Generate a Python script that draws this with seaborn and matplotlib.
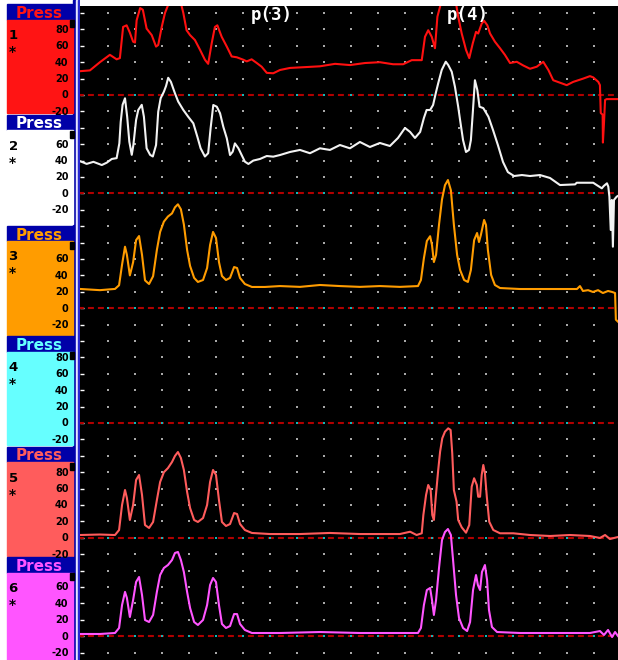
import numpy as np
import pandas as pd
import matplotlib
matplotlib.use("Agg")
import matplotlib.pyplot as plt
from matplotlib.patches import Rectangle
import seaborn as sns

# ---------------- data ----------------
channel_names = ["1", "2", "3", "4", "5", "6"]
panel_colors = ["#ff1414", "#ffffff", "#ff9c00", "#66ffff", "#ff5c5c", "#ff55ff"]
trace_colors = ["#ff1010", "#f2f2f2", "#ff9c00", "#66ffff", "#ff5c5c", "#ff55ff"]
zero_offsets = [-100, -220, -360, -500, -640, -760]   # plotted position of 0 mmHg
tick_values = [
    [80, 60, 40, 20, 0, -20],
    [60, 40, 20, 0, -20],
    [60, 40, 20, 0, -20],
    [80, 60, 40, 20, 0, -20],
    [80, 60, 40, 20, 0, -20],
    [60, 40, 20, 0, -20],
]
event_labels = ["p(3)", "p(4)"]
event_times = [7.07, 14.33]

# (time s, pressure mmHg)
ch1 = [(-0.05, 29), (0.33, 30), (0.70, 40), (1.07, 49), (1.32, 43.5), (1.44, 45), (1.56, 83),
       (1.69, 85), (1.81, 76), (1.93, 65), (2.00, 64), (2.06, 91), (2.19, 106), (2.29, 104),
       (2.43, 81), (2.62, 73), (2.78, 59), (2.86, 61), (2.99, 83), (3.11, 100), (3.23, 110),
       (3.37, 122), (3.52, 126), (3.67, 116), (3.79, 100), (3.91, 79), (4.04, 73), (4.22, 67),
       (4.41, 55), (4.59, 43), (4.71, 38), (4.84, 63), (4.96, 83), (5.05, 85), (5.21, 71),
       (5.40, 59), (5.58, 47), (5.77, 46), (6.01, 43), (6.14, 41), (6.32, 43.5), (6.51, 39),
       (6.69, 34.5), (6.88, 27), (7.12, 26.5), (7.37, 30.5), (7.74, 33), (8.30, 34), (8.85, 35),
       (9.41, 38), (9.96, 36.5), (10.52, 39), (11.07, 40), (11.56, 37.5), (11.93, 37.5),
       (12.25, 42.5), (12.62, 42.5), (12.74, 71), (12.86, 79), (12.99, 71), (13.11, 57),
       (13.20, 95.5), (13.30, 108), (13.37, 122), (13.59, 128), (13.85, 120), (13.97, 95.5),
       (14.10, 75), (14.26, 55), (14.38, 45), (14.51, 63), (14.63, 77), (14.71, 75), (14.84, 87),
       (14.93, 90.5), (15.05, 85), (15.15, 75), (15.33, 65), (15.52, 57), (15.70, 49),
       (15.89, 39), (16.14, 40.5), (16.38, 36), (16.63, 32), (16.88, 34.5), (17.12, 40.5),
       (17.31, 30.5), (17.49, 18), (17.74, 15), (17.99, 12), (18.23, 16), (18.60, 20),
       (18.85, 23), (18.97, 21.5), (19.16, 16), (19.22, 12), (19.25, -22), (19.32, -24),
       (19.33, -58), (19.37, -34), (19.41, -6), (19.47, -5), (19.89, -5)]

ch2 = [(-0.05, 39.5), (0.21, 36), (0.46, 38.5), (0.77, 34.6), (0.95, 37.4), (1.14, 42),
       (1.32, 43), (1.42, 61), (1.47, 87), (1.54, 108), (1.63, 116), (1.71, 93.5), (1.79, 63),
       (1.88, 47), (1.94, 59), (2.04, 89.5), (2.12, 101.7), (2.25, 108), (2.33, 93.5),
       (2.43, 55), (2.56, 47), (2.66, 45), (2.78, 59), (2.86, 99.6), (2.95, 116), (3.07, 124),
       (3.15, 131), (3.23, 141), (3.33, 136), (3.41, 128.5), (3.48, 122), (3.60, 112),
       (3.79, 101.7), (3.97, 93.5), (4.16, 85.5), (4.31, 69), (4.43, 55), (4.59, 45), (4.71, 49),
       (4.80, 79.4), (4.90, 107.8), (5.03, 105.7), (5.15, 97.7), (5.27, 81.3), (5.40, 67.2),
       (5.52, 46.8), (5.62, 50.9), (5.70, 61), (5.83, 55), (5.95, 46.8), (6.07, 38.7),
       (6.20, 35.9), (6.38, 40), (6.63, 42), (6.88, 45.6), (7.12, 44.8), (7.37, 46.8),
       (7.74, 50.5), (8.11, 53), (8.48, 49), (8.85, 55), (9.22, 53), (9.59, 59), (9.96, 55),
       (10.33, 62.7), (10.70, 56.6), (11.07, 61.5), (11.44, 57.8), (11.74, 67.6), (12.00, 79.8),
       (12.19, 74.9), (12.37, 67.6), (12.56, 74.9), (12.70, 92), (12.80, 101.7), (12.93, 101.7),
       (13.04, 107.8), (13.15, 123.7), (13.23, 134.3), (13.36, 150.5), (13.51, 160.6),
       (13.60, 156.6), (13.73, 148.4), (13.85, 130), (13.97, 105.7), (14.04, 89.5), (14.15, 65),
       (14.26, 50.5), (14.37, 53), (14.44, 65), (14.51, 98), (14.59, 138), (14.68, 126),
       (14.76, 105.7), (14.90, 104), (15.09, 93.5), (15.26, 77.3), (15.44, 59), (15.63, 38.3),
       (15.81, 26), (16.04, 21.2), (16.33, 22.4), (16.63, 21.2), (17.00, 22.4), (17.37, 18.8),
       (17.74, 10.2), (18.30, 11), (18.36, 13), (18.97, 13), (19.10, 10.2), (19.29, 6.2),
       (19.36, 9), (19.48, 12.3), (19.53, 8.2), (19.57, -4), (19.62, -44.6), (19.66, -8),
       (19.70, -65), (19.74, -8), (19.84, -4), (19.89, -3)]

ch3 = [(-0.05, 23.5), (0.70, 22), (1.26, 23.5), (1.41, 28), (1.52, 53), (1.63, 75), (1.70, 65),
       (1.81, 40), (1.93, 56), (2.04, 83), (2.15, 88), (2.26, 65), (2.37, 34), (2.52, 29.5),
       (2.67, 39), (2.81, 71), (2.93, 93), (3.07, 105.6), (3.22, 111.8), (3.37, 115.6),
       (3.48, 123), (3.59, 126.7), (3.70, 120.6), (3.81, 102.1), (3.93, 71), (4.04, 51.5),
       (4.19, 37), (4.33, 32), (4.52, 34.4), (4.67, 49), (4.78, 77), (4.89, 93), (5.00, 85.6),
       (5.11, 56.3), (5.22, 39.3), (5.37, 34.4), (5.52, 37), (5.67, 50.2), (5.78, 49),
       (5.89, 36.8), (6.07, 29.5), (6.33, 25.9), (6.81, 25.9), (7.37, 27), (8.11, 26),
       (8.85, 28.3), (9.59, 27), (10.33, 26), (11.07, 27), (11.81, 26), (12.48, 27),
       (12.59, 34.4), (12.70, 61), (12.81, 82), (12.93, 87.8), (13.00, 77), (13.07, 56.3),
       (13.15, 65), (13.26, 102), (13.37, 132.6), (13.48, 150), (13.59, 156.3), (13.70, 143.7),
       (13.81, 101.9), (13.93, 65), (14.04, 46.6), (14.19, 34.4), (14.33, 32), (14.44, 46.6),
       (14.56, 83), (14.67, 91.7), (14.74, 80.7), (14.81, 89.3), (14.93, 107.6), (15.00, 101.5),
       (15.07, 71), (15.19, 40.5), (15.33, 28.3), (15.52, 24.6), (16.26, 23.4), (17.00, 23.4),
       (17.74, 23.4), (18.37, 23.4), (18.48, 27), (18.59, 21), (18.78, 22), (18.96, 19.8),
       (19.15, 22), (19.33, 18.5), (19.52, 21), (19.67, 19.8), (19.78, 18.5), (19.81, -14),
       (19.89, -16.5)]

ch4 = []   # no signal on channel 4

ch5 = [(-0.05, 3.4), (0.70, 4), (1.26, 3.4), (1.41, 9.5), (1.52, 40), (1.63, 58.3), (1.70, 48.5),
       (1.81, 21.7), (1.93, 40), (2.04, 70.5), (2.15, 76.6), (2.26, 52.2), (2.37, 15.6),
       (2.52, 12), (2.67, 19.3), (2.81, 46), (2.93, 68), (3.07, 80), (3.22, 85), (3.37, 92.4),
       (3.48, 99.8), (3.59, 104.6), (3.70, 97.3), (3.81, 82.7), (3.93, 55.9), (4.04, 36.3),
       (4.19, 21.7), (4.33, 19.3), (4.52, 24.1), (4.67, 40), (4.78, 68), (4.89, 82.7),
       (5.00, 76.6), (5.11, 46), (5.22, 19.3), (5.37, 14.4), (5.52, 16.8), (5.67, 30.2),
       (5.78, 29), (5.89, 16.8), (6.07, 9.5), (6.33, 5.9), (7.00, 4.6), (8.11, 4.6), (9.22, 5.9),
       (10.33, 4.6), (11.07, 4.6), (11.81, 4.6), (12.19, 7.4), (12.43, 3.4), (12.62, 5.5),
       (12.68, 27.8), (12.78, 52.2), (12.86, 64.4), (12.95, 58.3), (13.01, 27.8), (13.07, 21.7),
       (13.14, 50.1), (13.23, 82.7), (13.30, 105), (13.38, 121.3), (13.48, 129.4),
       (13.60, 133.5), (13.69, 131.5), (13.75, 103), (13.81, 58.3), (13.91, 44), (13.97, 21.7),
       (14.10, 12.8), (14.26, 6.2), (14.38, 15.6), (14.47, 62.3), (14.56, 72.6), (14.66, 64.4),
       (14.71, 50.1), (14.78, 50.1), (14.84, 76.6), (14.90, 88.8), (14.96, 78.7), (15.03, 50.1),
       (15.12, 19.6), (15.27, 9.5), (15.52, 5.5), (16.01, 5.5), (16.63, 3.4), (17.37, 2.2),
       (18.11, 3.4), (18.85, 2.2), (19.22, -0.2), (19.41, 3.4), (19.59, -1.5), (19.89, 1)]

ch6 = [(-0.05, 2.7), (0.70, 2.7), (1.26, 3.9), (1.41, 10), (1.52, 38), (1.63, 54), (1.70, 46.6),
       (1.81, 23.4), (1.93, 44.1), (2.04, 66.1), (2.15, 72.2), (2.26, 50.2), (2.37, 19.8),
       (2.52, 17.3), (2.67, 25.9), (2.81, 54), (2.93, 74.6), (3.07, 83.2), (3.22, 86.8),
       (3.37, 92.9), (3.48, 101.5), (3.59, 102.7), (3.70, 92.9), (3.81, 78.3), (3.93, 54),
       (4.04, 34.4), (4.19, 17.3), (4.33, 13.7), (4.52, 19.8), (4.67, 38), (4.78, 62.4),
       (4.89, 71), (5.00, 66.1), (5.11, 38), (5.22, 14.9), (5.37, 10), (5.52, 12.4), (5.67, 27),
       (5.78, 27), (5.89, 14.9), (6.07, 7.6), (6.33, 3.9), (7.37, 3.9), (8.85, 5.1), (10.33, 3.9),
       (11.81, 3.9), (12.48, 3.9), (12.59, 10), (12.70, 38), (12.81, 56.3), (12.93, 58.8),
       (13.00, 44.1), (13.07, 25.9), (13.15, 44.1), (13.26, 83.2), (13.37, 117.3), (13.48, 127),
       (13.59, 130.7), (13.70, 123.4), (13.78, 92.9), (13.89, 50.2), (14.00, 22.2), (14.15, 10),
       (14.30, 6.3), (14.41, 17.3), (14.52, 56.3), (14.63, 74.6), (14.70, 62.4), (14.78, 56.3),
       (14.85, 78.3), (14.96, 86.8), (15.04, 68.5), (15.11, 32), (15.22, 11.2), (15.41, 5.1),
       (16.26, 3.9), (17.74, 3.9), (18.85, 3.9), (19.22, 6.3), (19.37, 1.5), (19.52, 7.6),
       (19.67, -1), (19.78, 5.1), (19.89, 0.2)]

channels = [ch1, ch2, ch3, ch4, ch5, ch6]

grid_times = np.arange(1, 20)          # one dot column per second
grid_levels = np.arange(0, 40) * -20   # one dot row per 20 mmHg

# ---------------- figure ----------------
plt.rcParams["lines.scale_dashes"] = False
W, H = 618, 660
fig = plt.figure(figsize=(W / 100, H / 100), dpi=100, facecolor="white")

ax = fig.add_axes([80 / W, 0, 538 / W, 654 / H])
ax.set_facecolor("black")
ax.set_xlim(-1 / 27, 537 / 27)
ax.set_ylim(-647 / 16.4 * 20, 7 / 16.4 * 20)
for s in ax.spines.values():
    s.set_visible(False)

# dotted grid
gx, gy = np.meshgrid(grid_times, grid_levels)
ax.scatter(gx.ravel(), gy.ravel(), s=1.3, marker="s", color="#a8a8a8", linewidths=0, zorder=1)

# zero lines
for off in zero_offsets:
    ax.axhline(off, color="#b00000", lw=1.5, linestyle=(1.5, (4.3, 2.9)), zorder=2)
    ax.scatter(grid_times, np.full(len(grid_times), off), s=2.5, marker="s",
               color="#10b8b8", linewidths=0, zorder=3)

# traces
for samples, off, col in zip(channels, zero_offsets, trace_colors):
    if not samples:
        continue
    t, p = zip(*samples)
    df = pd.DataFrame({"t": t, "y": off + np.asarray(p, dtype=float)})
    sns.lineplot(data=df, x="t", y="y", ax=ax, color=col, lw=1.5, sort=False,
                 estimator=None, legend=False, zorder=4)

ax.set_xlabel("")
ax.set_ylabel("")
ax.set_xticks([])
ax.set_yticks(grid_levels)
ax.tick_params(axis="y", direction="in", length=3, width=1, colors="white", labelleft=False)

for lab, tm in zip(event_labels, event_times):
    ax.text(tm, -2.6, lab, color="white", fontsize=12.5, fontweight="bold",
            family="DejaVu Sans Mono", ha="center", va="center", zorder=6)

# ---------------- left channel panels ----------------
lax = fig.add_axes([0, 0, 80 / W, 1])
lax.set_xlim(0, 80)
lax.set_ylim(H, 0)
lax.axis("off")
navy = "#0000a8"
lax.add_patch(Rectangle((73, 0), 2.5, H, color=navy))
lax.add_patch(Rectangle((75.5, 0), 2.0, H, color="#e6e6ff"))
lax.add_patch(Rectangle((77.5, 0), 2.0, H, color="#2828d0"))

panel_tops = [4, 114.5, 225.5, 336, 446.5, 557]
for i in range(6):
    top = panel_tops[i]
    bottom = panel_tops[i + 1] - 1.5 if i < 5 else H
    col = panel_colors[i]
    lax.add_patch(Rectangle((6.5, top), 66.5, 15.5, color=navy))
    lax.add_patch(Rectangle((6.5, top + 15.5), 66.5, bottom - top - 15.5, color=col))
    lax.add_patch(Rectangle((69.5, top + 16), 4, 7, color="black"))
    lax.text(39.5, top + 9.5, "Press", color=col, fontsize=11, fontweight="bold",
             ha="center", va="center")
    lax.text(8.5, top + 30, channel_names[i], color="black", fontsize=9.5, fontweight="bold",
             ha="left", va="center_baseline")
    lax.text(8.5, top + 48, "*", color="black", fontsize=10, fontweight="bold",
             ha="left", va="center")
    zero_row = -zero_offsets[i] / 20
    for v in tick_values[i]:
        row = zero_row - v / 20
        lax.text(68.5, 12.5 + 16.4 * row, f"{v}", color="black", fontsize=7,
                 fontweight="bold", ha="right", va="center_baseline")

fig.savefig("out.png", dpi=100, facecolor="white")
